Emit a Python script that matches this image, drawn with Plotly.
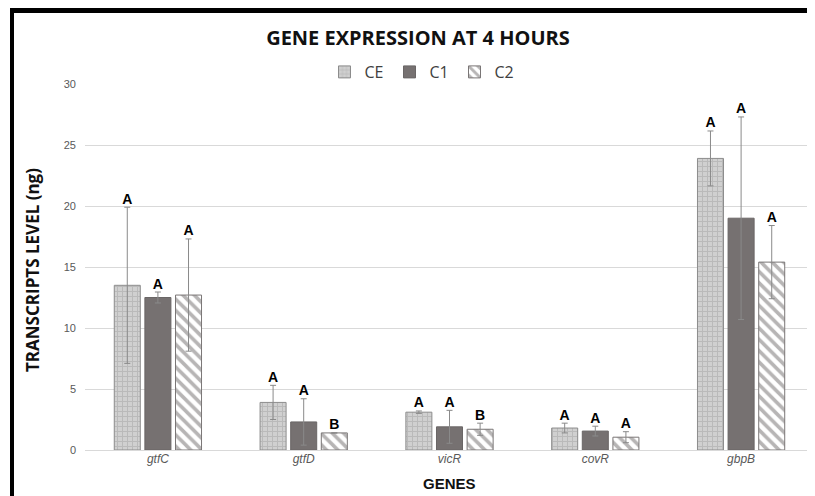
import plotly.graph_objects as go

genes = ["gtfC", "gtfD", "vicR", "covR", "gbpB"]
series_names = ["CE", "C1", "C2"]
ce_vals = [13.5, 3.9, 3.1, 1.8, 23.9]
ce_err = [6.4, 1.4, 0.1, 0.4, 2.25]
c1_vals = [12.5, 2.3, 1.9, 1.55, 19.0]
c1_err = [0.45, 1.9, 1.35, 0.4, 8.3]
c2_vals = [12.7, 1.4, 1.7, 1.05, 15.4]
c2_err = [4.6, 0.0, 0.5, 0.45, 3.0]
ce_letters = ["A", "A", "A", "A", "A"]
c1_letters = ["A", "A", "A", "A", "A"]
c2_letters = ["A", "B", "B", "A", "A"]
y_ticks = [0, 5, 10, 15, 20, 25, 30]

# page has an 8px body margin; figure sized to fit the window
OFF = 8
W, H = 815 - OFF, 496 - OFF
L, R, T, B = 85 - OFF, 1, 84 - OFF, 46
PW, PH = W - L - R, H - T - B

def px_x(p):
    return (p - OFF - L) / PW

def px_y(p):
    return (H - B - (p - OFF)) / PH

styles = {
    "CE": dict(color="#cfcfcf", pattern=dict(shape="+", fgcolor="#a3a3a3", bgcolor="#d0d0d0", size=5, solidity=0.35), line=dict(color="#8c8c8c", width=1)),
    "C1": dict(color="#767171", line=dict(color="#6a6666", width=1)),
    "C2": dict(color="#ffffff", pattern=dict(shape="\\", fgcolor="#6f6b6b", bgcolor="#ffffff", size=8, solidity=0.45), line=dict(color="#7a7676", width=1)),
}

fig = go.Figure()
data = [("CE", ce_vals, ce_err, ce_letters), ("C1", c1_vals, c1_err, c1_letters), ("C2", c2_vals, c2_err, c2_letters)]
for name, vals, errs, letters in data:
    fig.add_trace(go.Bar(
        x=genes, y=vals, name=name, offsetgroup=name,
        marker=styles[name],
        error_y=dict(type="data", array=errs, visible=True, color="#8a8a8a", thickness=1, width=3),
    ))
for name, vals, errs, letters in data:
    fig.add_trace(go.Scatter(
        x=genes, y=[v + e for v, e in zip(vals, errs)], mode="text",
        text=["<b>%s</b>" % t for t in letters], textposition="top center", offsetgroup=name,
        textfont=dict(family="Arial", size=14, color="#000000"),
        showlegend=False, hoverinfo="skip", cliponaxis=False,
    ))

fig.update_layout(
    width=W, height=H,
    margin=dict(l=L, r=R, t=T, b=B),
    paper_bgcolor="#ffffff", plot_bgcolor="#ffffff",
    barmode="group", bargap=0.37, bargroupgap=0.15,
    scattermode="group", scattergap=0.37,
    title=dict(text="<b>GENE EXPRESSION AT 4 HOURS</b>", x=(418 - OFF) / W, xanchor="center",
               y=1 - (38 - OFF) / H, yanchor="middle",
               font=dict(family="Open Sans", size=20, color="#111111")),
    legend=dict(orientation="h", x=px_x(422), xanchor="center", y=px_y(72), yanchor="middle",
                font=dict(family="Open Sans", size=16, color="#404040"),
                bgcolor="rgba(0,0,0,0)", itemwidth=30, entrywidth=20, entrywidthmode="pixels"),
    showlegend=True,
    xaxis=dict(tickfont=dict(family="Arial", size=12, color="#595959"), showgrid=False,
               showline=False, ticks="", tickvals=genes,
               ticktext=["<i>%s</i>" % g for g in genes]),
    yaxis=dict(range=[0, 30], tickvals=y_ticks, showgrid=True, gridcolor="#d9d9d9", gridwidth=1,
               zeroline=True, zerolinecolor="#d9d9d9", zerolinewidth=1,
               tickfont=dict(family="Arial", size=11, color="#595959"), ticklabelstandoff=8),
    annotations=[
        dict(text="<b>TRANSCRIPTS LEVEL (ng)</b>", xref="paper", yref="paper", x=px_x(32), y=px_y(270),
             textangle=-90, showarrow=False, xanchor="center", yanchor="middle",
             font=dict(family="Open Sans", size=17, color="#111111")),
        dict(text="<b>GENES</b>", xref="paper", yref="paper", x=px_x(449), y=px_y(483),
             showarrow=False, xanchor="center", yanchor="middle",
             font=dict(family="Arial", size=15, color="#111111")),
    ],
    shapes=[
        dict(type="rect", xref="paper", yref="paper", x0=px_x(10), x1=px_x(816), y0=px_y(13), y1=px_y(7),
             fillcolor="#000000", line=dict(width=0), layer="above"),
        dict(type="rect", xref="paper", yref="paper", x0=px_x(10), x1=px_x(14), y0=px_y(497), y1=px_y(7),
             fillcolor="#000000", line=dict(width=0), layer="above"),
    ],
)

fig.write_html("out.html")
